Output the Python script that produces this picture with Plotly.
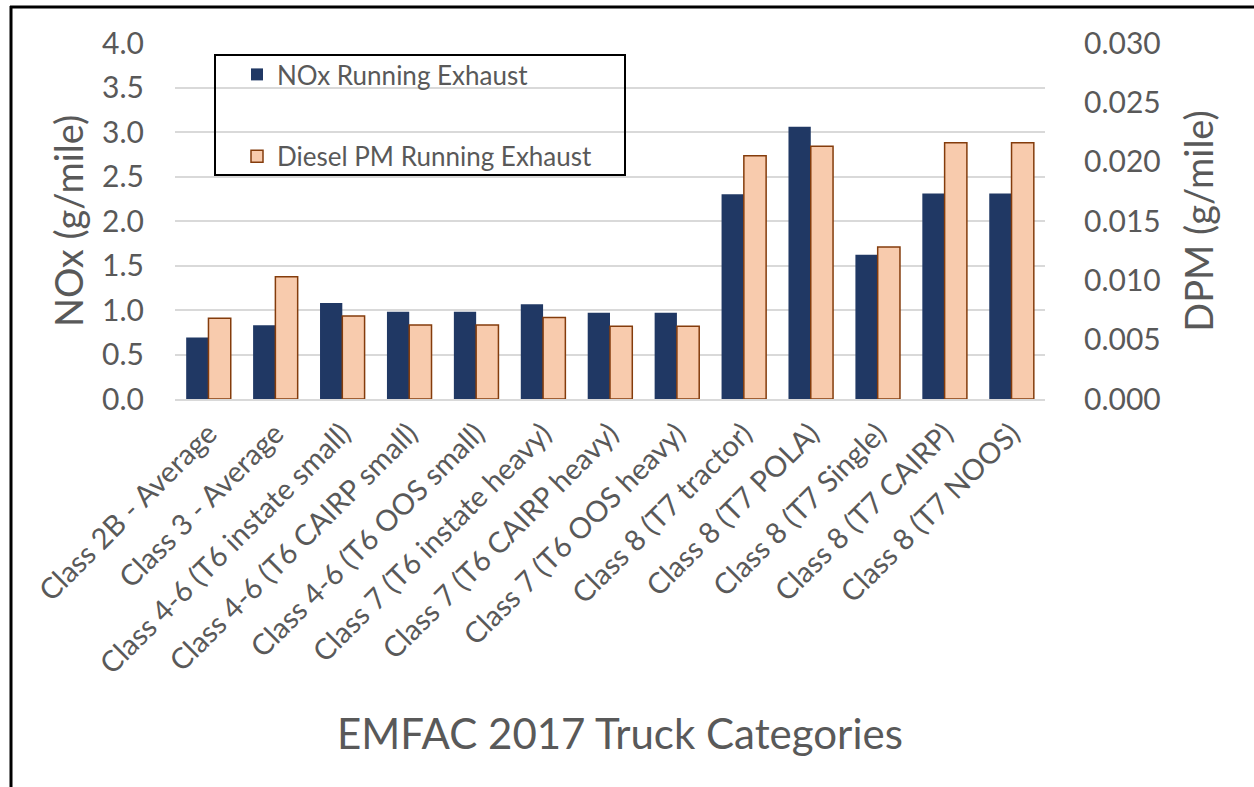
import plotly.graph_objects as go

categories = [
    "Class 2B - Average",
    "Class 3 - Average",
    "Class 4-6 (T6 instate small)",
    "Class 4-6 (T6 CAIRP small)",
    "Class 4-6 (T6 OOS small)",
    "Class 7 (T6 instate heavy)",
    "Class 7 (T6 CAIRP heavy)",
    "Class 7 (T6 OOS heavy)",
    "Class 8 (T7 tractor)",
    "Class 8 (T7 POLA)",
    "Class 8 (T7 Single)",
    "Class 8 (T7 CAIRP)",
    "Class 8 (T7 NOOS)",
]
nox = [0.69, 0.83, 1.08, 0.98, 0.98, 1.065, 0.97, 0.97, 2.30, 3.06, 1.62, 2.31, 2.31]
dpm = [0.0068, 0.0103, 0.0070, 0.00624, 0.00624, 0.00686, 0.00613, 0.00613,
       0.0205, 0.0213, 0.0128, 0.0216, 0.0216]

left_ticks = [0, 0.5, 1, 1.5, 2, 2.5, 3, 3.5, 4]
left_labels = ["0.0", "0.5", "1.0", "1.5", "2.0", "2.5", "3.0", "3.5", "4.0"]
right_ticks = [0, 0.005, 0.01, 0.015, 0.02, 0.025, 0.03]
right_labels = ["0.000", "0.005", "0.010", "0.015", "0.020", "0.025", "0.030"]

W, H = 1254, 787
L, R, T, B = 175, 1045, 43, 399  # plot area in px
TXT = "#595959"
FONT = "Lato"

def px_x(p):
    return (p - L) / (R - L)

def px_y(p):
    return (B - p) / (B - T)

fig = go.Figure()
fig.add_trace(go.Bar(
    x=categories, y=nox, name="NOx Running Exhaust",
    marker=dict(color="#203864", line=dict(width=0)),
    width=0.333, offset=-0.333, yaxis="y", legendgroup="a",
))
fig.add_trace(go.Bar(
    x=categories, y=dpm, name="Diesel PM Running Exhaust",
    marker=dict(color="#F8CBAD", line=dict(color="#843C0C", width=1.5)),
    width=0.333, offset=0.0, yaxis="y2", legendgroup="b",
))

fig.update_layout(
    width=W, height=H,
    margin=dict(l=L, r=W - R, t=T, b=H - B, autoexpand=False),
    paper_bgcolor="white", plot_bgcolor="white",
    font=dict(family=FONT, color=TXT),
    barmode="overlay",
    showlegend=True,
    legend=dict(
        x=px_x(237), y=px_y(51), xanchor="left", yanchor="top",
        bgcolor="rgba(0,0,0,0)", borderwidth=0,
        font=dict(size=26, color=TXT, family=FONT),
        traceorder="grouped", tracegroupgap=45,
    ),
    xaxis=dict(
        type="category", tickangle=-45, tickfont=dict(size=29, color=TXT),
        showgrid=False, showline=True, linecolor="#D9D9D9", linewidth=2,
        ticks="outside", ticklen=4, tickcolor="rgba(0,0,0,0)", automargin=False,
    ),
    yaxis=dict(
        range=[0, 4], tickvals=left_ticks, ticktext=left_labels,
        tickfont=dict(size=30, color=TXT),
        showgrid=True, gridcolor="#D9D9D9", gridwidth=1.5,
        zeroline=False, showline=False,
        ticks="outside", ticklen=24, tickcolor="rgba(0,0,0,0)",
        title=dict(text="NOx (g/mile)", font=dict(size=38, color=TXT), standoff=6),
        automargin=False,
    ),
    yaxis2=dict(
        range=[0, 0.03], tickvals=right_ticks, ticktext=right_labels,
        overlaying="y", side="right",
        tickfont=dict(size=30, color=TXT),
        showgrid=False, zeroline=False, showline=False,
        ticks="outside", ticklen=32, tickcolor="rgba(0,0,0,0)",
        title=dict(text="DPM (g/mile)", font=dict(size=38, color=TXT), standoff=26),
        automargin=False,
    ),
    annotations=[dict(
        text="EMFAC 2017 Truck Categories", xref="paper", yref="paper",
        x=px_x(620), y=px_y(733), xanchor="center", yanchor="middle",
        showarrow=False, font=dict(size=42, color=TXT, family=FONT),
    )],
    shapes=[
        # legend frame
        dict(type="rect", xref="paper", yref="paper",
             x0=px_x(215), x1=px_x(625), y0=px_y(55), y1=px_y(175),
             line=dict(color="black", width=2), fillcolor="rgba(0,0,0,0)"),
        # outer chart frame: left and top edges
        dict(type="line", xref="paper", yref="paper",
             x0=px_x(11), x1=px_x(11), y0=px_y(787), y1=px_y(6),
             line=dict(color="black", width=3), layer="above"),
        dict(type="line", xref="paper", yref="paper",
             x0=px_x(10), x1=px_x(1254), y0=px_y(7), y1=px_y(7),
             line=dict(color="black", width=3), layer="above"),
    ],
)

fig.write_html(
    "out.html",
    config={"displayModeBar": False},
    post_script="document.body.style.margin='0';document.body.style.overflow='hidden';",
)
